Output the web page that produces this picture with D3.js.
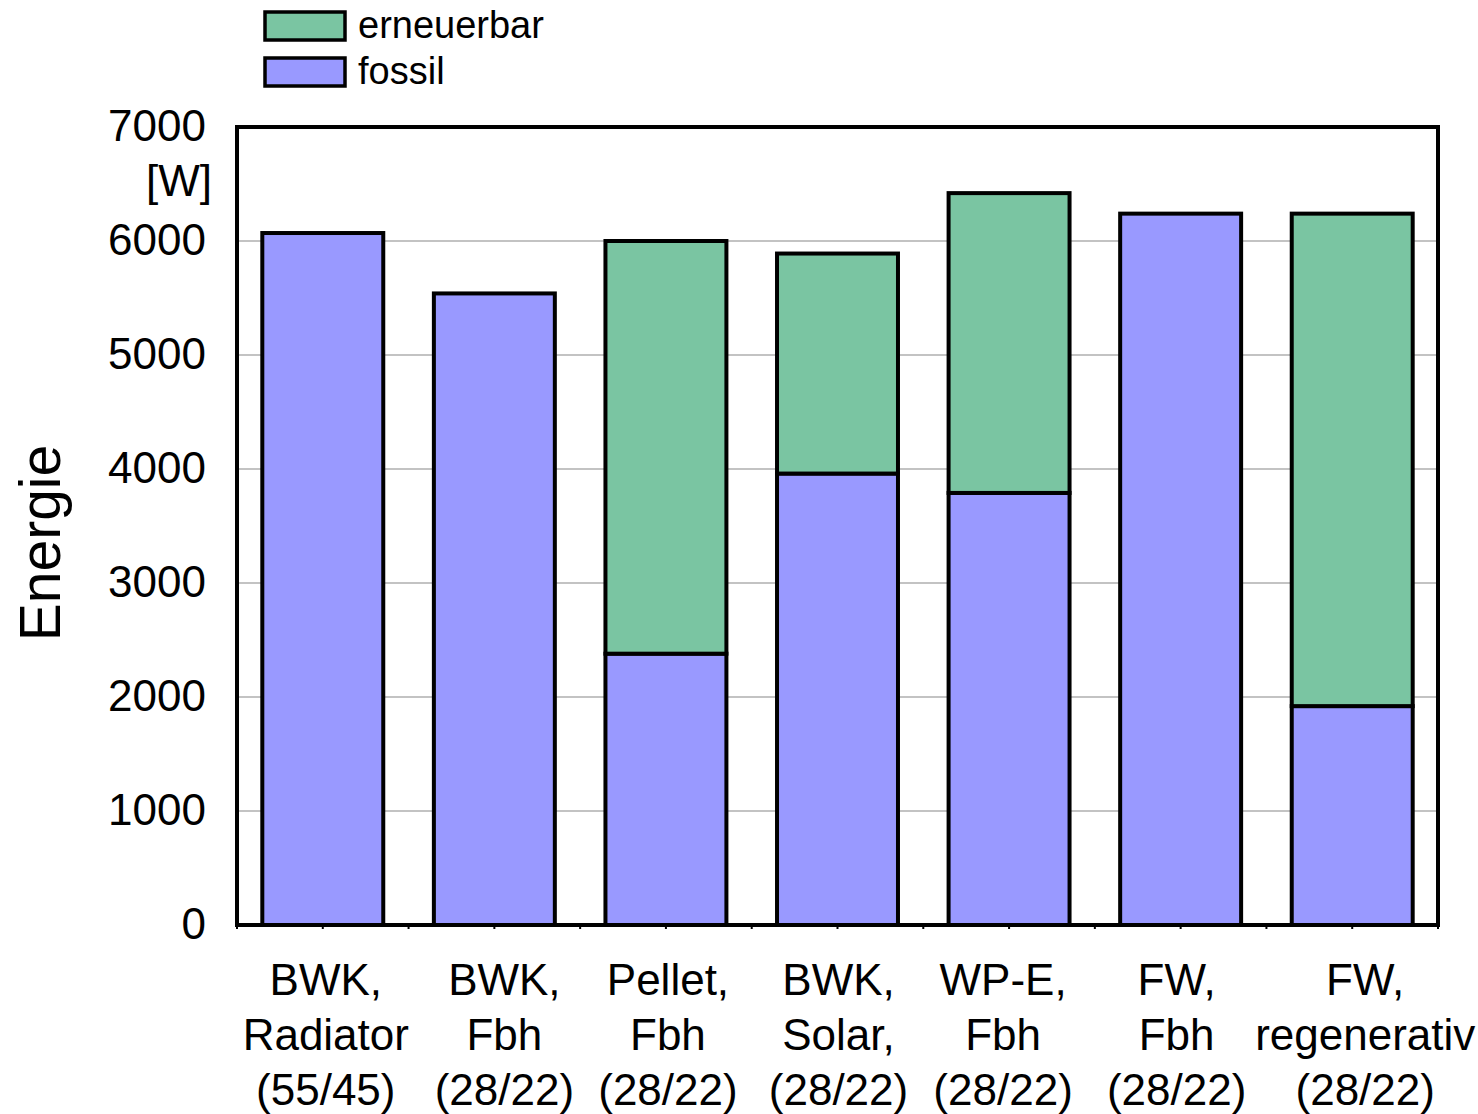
<!DOCTYPE html>
<html><head><meta charset="utf-8">
<script src="https://cdn.jsdelivr.net/npm/d3@7"></script>
<style>body{margin:0;background:#fff}svg{display:block;font-family:"Liberation Sans",Arial,sans-serif}</style>
</head><body><svg id="c" width="1478" height="1114"></svg>
<script>
const categories = [
  ["BWK,","Radiator","(55/45)"],
  ["BWK,","Fbh","(28/22)"],
  ["Pellet,","Fbh","(28/22)"],
  ["BWK,","Solar,","(28/22)"],
  ["WP-E,","Fbh","(28/22)"],
  ["FW,","Fbh","(28/22)"],
  ["FW,","regenerativ","(28/22)"]
];
const fossil     = [6070, 5540, 2380, 3960, 3790, 6240, 1920];
const erneuerbar = [0, 0, 3620, 1930, 2630, 0, 4320];
const yTicks = [0,1000,2000,3000,4000,5000,6000,7000];
const seriesNames = ["erneuerbar","fossil"];
const colors = {erneuerbar:"#7ac5a2", fossil:"#9999ff"};
// label horizontal nudges (layout only)
const labelDx = [3, 10, 2, 1, -6, -4, 13];

const svg = d3.select("#c");
const L=237, R=1438, T=127, B=925;
const x = d3.scaleBand().domain(d3.range(categories.length)).range([L,R]).paddingInner(0.295).paddingOuter(0.1475);
const y = d3.scaleLinear().domain([0,7000]).range([B,T]);

// gridlines
svg.append("g").selectAll("line").data(yTicks.filter(d=>d>0&&d<7000)).join("line")
  .attr("x1",L).attr("x2",R).attr("y1",d=>y(d)).attr("y2",d=>y(d))
  .attr("stroke","#888").attr("stroke-width",1.2);

// bars
const data = categories.map((c,i)=>({i, fossil:fossil[i], erneuerbar:erneuerbar[i]}));
const stack = d3.stack().keys(["fossil","erneuerbar"])(data);
stack.forEach(s=>{
  svg.append("g").selectAll("rect").data(s.filter(d=>d[1]-d[0]>0)).join("rect")
    .attr("x",d=>x(d.data.i)).attr("width",x.bandwidth())
    .attr("y",d=>y(d[1])).attr("height",d=>y(d[0])-y(d[1]))
    .attr("fill",colors[s.key]).attr("stroke","#000").attr("stroke-width",4);
});

// frame
svg.append("rect").attr("x",L).attr("y",T).attr("width",R-L).attr("height",B-T)
  .attr("fill","none").attr("stroke","#000").attr("stroke-width",4);

// x minor ticks
const step=(R-L)/categories.length/2;
svg.append("g").selectAll("line").data(d3.range(0,categories.length*2+1)).join("line")
  .attr("x1",d=>L+d*step).attr("x2",d=>L+d*step).attr("y1",B).attr("y2",B+4)
  .attr("stroke","#000").attr("stroke-width",2);

// y axis labels
const yAxis = d3.axisLeft(y).tickValues(yTicks).tickSize(0).tickPadding(31).tickFormat(d3.format("d"));
const ga = svg.append("g").attr("transform",`translate(${L},0)`).call(yAxis);
ga.select(".domain").remove();
ga.selectAll("text").attr("font-size",44).attr("fill","#000").attr("dy","0.3em")
  .attr("font-family","Liberation Sans, Arial, sans-serif");
svg.append("text").attr("x",212).attr("y",181).attr("dy","0.35em").attr("text-anchor","end")
  .attr("font-size",44).text("[W]");

// y title
svg.append("text").attr("transform","translate(60,543) rotate(-90)").attr("text-anchor","middle")
  .attr("font-size",57).text("Energie");

// x labels
const xl = svg.append("g").selectAll("text").data(categories).join("text")
  .attr("text-anchor","middle").attr("font-size",44)
  .attr("transform",(d,i)=>`translate(${x(i)+x.bandwidth()/2+labelDx[i]},0)`);
xl.each(function(d){
  const t=d3.select(this);
  d.forEach((ln,k)=>t.append("tspan").attr("x",0).attr("y",995+k*55).text(ln));
});

// legend
const lg = svg.append("g");
seriesNames.forEach((n,k)=>{
  lg.append("rect").attr("x",265).attr("y",12+k*46).attr("width",80).attr("height",28)
    .attr("fill",colors[n]).attr("stroke","#000").attr("stroke-width",3.5);
  lg.append("text").attr("x",358).attr("y",25+k*46).attr("dy","0.35em").attr("font-size",38).text(n);
});
</script></body></html>
